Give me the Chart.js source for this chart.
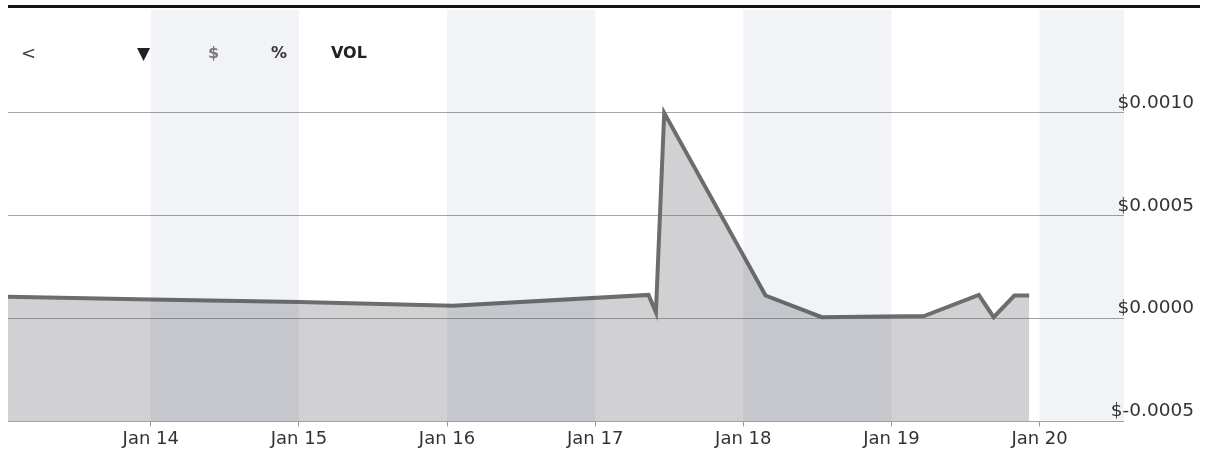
<!DOCTYPE html>
<html>
<head>
<meta charset="utf-8">
<script src="https://cdn.jsdelivr.net/npm/chart.js@4.4.1/dist/chart.umd.min.js"></script>
<style>
  html, body { margin: 0; padding: 0; background: #ffffff; }
  #wrap { position: relative; width: 1205px; height: 452px; overflow: hidden; }
  #topbar { position: absolute; left: 8px; top: 5px; width: 1192px; height: 3px; background: #151515; z-index: 2; }
  .tb { position: absolute; font-family: "DejaVu Sans", sans-serif; line-height: 20px; height: 20px; top: 43px; z-index: 2; white-space: nowrap; }
  canvas { position: absolute; left: 0; top: 0; }
</style>
</head>
<body>
<div id="wrap">
  <div id="topbar"></div>
  <span class="tb" style="left:21px;font-size:18px;color:#444;">&lt;</span>
  <span class="tb" style="left:137px;font-size:17px;color:#222;">▼</span>
  <span class="tb" style="left:208px;font-size:16px;color:#7a7a7a;font-weight:bold;">$</span>
  <span class="tb" style="left:271px;font-size:16px;color:#333;font-weight:bold;">%</span>
  <span class="tb" style="left:331px;font-size:16px;color:#222;font-weight:bold;">VOL</span>
  <canvas id="c" width="1205" height="452"></canvas>
</div>
<script>
// ---- data (x = day of January, y = price in $) ----
const days   = [13.036, 14.0, 15.0, 16.04, 17.36, 17.41, 17.466, 18.15, 18.53, 19.22, 19.59, 19.69, 19.83, 19.93];
const prices = [0.000106, 0.0000925, 0.000081, 0.0000617, 0.000115, 0.000030, 0.00100, 0.000112, 0.0000065, 0.000012, 0.000115, 0.0000065, 0.000112, 0.000112];
const xTickDays   = [14, 15, 16, 17, 18, 19, 20];
const xTickLabels = ['Jan 14', 'Jan 15', 'Jan 16', 'Jan 17', 'Jan 18', 'Jan 19', 'Jan 20'];
const yTickValues = [-0.0005, 0, 0.0005, 0.001];
const yTickLabels = ['$-0.0005', '$0.0000', '$0.0005', '$0.0010'];
const shadedDays  = [14, 16, 18, 20];

const X_MIN = 13.036, X_MAX = 20.57;
const Y_MIN = -0.0005, Y_MAX = 0.0015;

const FONT = '"DejaVu Sans", sans-serif';
const Y_FONT_SIZE = 18.5;
const Y_AXIS_W = 70;

function nearIdx(arr, v, eps) {
  for (let i = 0; i < arr.length; i++) if (Math.abs(arr[i] - v) < eps) return i;
  return -1;
}

const bandPlugin = {
  id: 'dayBands',
  afterDatasetsDraw(chart) {
    const { ctx, chartArea: a, scales: { x } } = chart;
    ctx.save();
    ctx.beginPath();
    ctx.rect(a.left, a.top, a.right - a.left, a.bottom - a.top);
    ctx.clip();
    ctx.globalCompositeOperation = 'multiply';
    ctx.fillStyle = 'rgb(241,243,247)';
    shadedDays.forEach(d => {
      const x0 = x.getPixelForValue(d);
      const x1 = x.getPixelForValue(d + 1);
      ctx.fillRect(x0, a.top, x1 - x0, a.bottom - a.top);
    });
    ctx.restore();
  }
};

new Chart(document.getElementById('c'), {
  type: 'line',
  data: {
    datasets: [{
      data: days.map((d, i) => ({ x: d, y: prices[i] })),
      borderColor: '#6d6d6d',
      borderWidth: 4,
      backgroundColor: 'rgba(108,108,112,0.31)',
      fill: 'start',
      pointRadius: 0,
      tension: 0
    }]
  },
  options: {
    responsive: false,
    animation: false,
    layout: { padding: { left: 8, top: 10, right: 11, bottom: 0 } },
    plugins: { legend: { display: false }, tooltip: { enabled: false } },
    scales: {
      x: {
        type: 'linear',
        min: X_MIN,
        max: X_MAX,
        border: { display: false },
        grid: { drawOnChartArea: false, drawTicks: true, tickLength: 5, color: '#9a9a9a' },
        ticks: {
          stepSize: 1,
          includeBounds: false,
          autoSkip: false,
          maxRotation: 0,
          padding: 2,
          color: '#333',
          font: { family: FONT, size: 18 },
          callback: v => { const i = nearIdx(xTickDays, v, 1e-6); return i >= 0 ? xTickLabels[i] : ''; }
        }
      },
      y: {
        type: 'linear',
        position: 'right',
        min: Y_MIN,
        max: Y_MAX,
        border: { display: false },
        grid: {
          drawTicks: false,
          lineWidth: 1,
          color: ctx => (ctx.tick && ctx.tick.value > 0.0012) ? 'rgba(0,0,0,0)' : '#a4a4a4'
        },
        afterFit: s => { s.width = Y_AXIS_W; s.paddingTop = 0; s.paddingBottom = 0; },
        ticks: {
          stepSize: 0.0005,
          mirror: true,
          crossAlign: 'near',
          padding: Y_AXIS_W,
          labelOffset: -10,
          color: '#333',
          font: { family: FONT, size: Y_FONT_SIZE },
          callback: v => { const i = nearIdx(yTickValues, v, 1e-9); return i >= 0 ? yTickLabels[i] : ''; }
        }
      }
    }
  },
  plugins: [bandPlugin]
});
</script>
</body>
</html>
